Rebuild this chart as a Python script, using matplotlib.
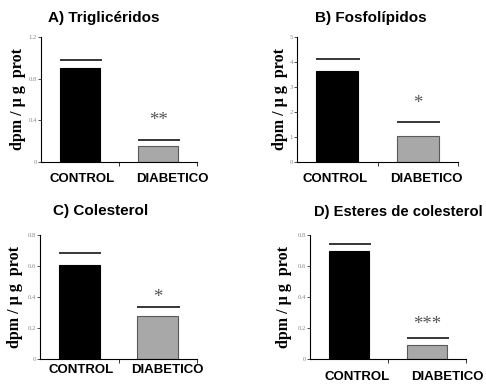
import numpy as np
import matplotlib
matplotlib.use("Agg")
import matplotlib.pyplot as plt
import matplotlib.transforms as mtransforms

# Datos (dpm / ug prot)
grupos = ["CONTROL", "DIABETICO"]
titulos = ["A) Triglicéridos", "B) Fosfolípidos", "C) Colesterol", "D) Esteres de colesterol"]
medias_tg = [0.90, 0.15]
sem_tg = [0.08, 0.06]
medias_fl = [3.62, 1.04]
sem_fl = [0.50, 0.56]
medias_col = [0.605, 0.28]
sem_col = [0.08, 0.055]
medias_est = [0.70, 0.088]
sem_est = [0.042, 0.047]
signif = ["**", "*", "*", "***"]
yticks_a = [0, 0.4, 0.8, 1.2]
yticks_b = [0, 1, 2, 3, 4, 5]
yticks_cd = [0, 0.2, 0.4, 0.6, 0.8]

W, H = 486, 386
fig = plt.figure(figsize=(W / 100, H / 100), dpi=100)


def caja(l, t, r, b):
    return [l / W, 1 - b / H, (r - l) / W, (b - t) / H]


paneles = [
    # caja, medias, sem, yticks, etiquetas, pad xlabel, desplaz. etiquetas x (px), dist ylabel (px), desplaz. estrellas (pt)
    (caja(41, 37, 197, 162), medias_tg, sem_tg, yticks_a, ["0", "0.4", "0.8", "1.2"], 8, (2, 14), 23, 14),
    (caja(297, 37, 458, 162), medias_fl, sem_fl, yticks_b, ["0", "1", "2", "3", "4", "5"], 8, (-2, 9), 17, 13),
    (caja(40, 235, 197, 359), medias_col, sem_col, yticks_cd, ["0", "0.2", "0.4", "0.6", "0.8"], 3.5, (2, 10), 25, 7),
    (caja(310, 235, 466, 359), medias_est, sem_est, yticks_cd, ["0", "0.2", "0.4", "0.6", "0.8"], 8.5, (8, 20), 26, 10),
]

x = np.arange(len(grupos))
ancho = 0.52

for i, (rect, medias, sem, yt, ytl, pad, desp, dist, est_off) in enumerate(paneles):
    ax = fig.add_axes(rect)
    ax.bar(x, medias, width=ancho, color=["black", "#a8a8a8"],
           edgecolor=["black", "#5a5a5a"], linewidth=0.8)
    tope = np.array(medias) + np.array(sem)
    ax.hlines(tope, x - ancho / 2, x + ancho / 2 + 0.02, color="black", linewidth=1.1)
    ax.annotate(signif[i], (x[1], tope[1]), xytext=(0, est_off), textcoords="offset points",
                ha="center", va="center", fontsize=13.5, color="#555555",
                family="Liberation Serif")

    ax.set_xlim(-0.5, 1.5)
    ax.set_ylim(yt[0], yt[-1])
    ax.set_yticks(yt)
    ax.set_yticklabels(ytl, family="Liberation Serif", fontsize=4.8, color="#888888")
    ax.tick_params(axis="y", length=2, width=0.6, pad=1, color="#333333")

    ax.set_xticks(x)
    ax.set_xticklabels(grupos, family="Liberation Sans", fontweight="bold", fontsize=9.5)
    ax.tick_params(axis="x", length=0, pad=pad)
    ax.set_xticks([0.5, 1.5], minor=True)
    ax.tick_params(axis="x", which="minor", length=3, width=0.7, color="#333333")
    for lab, dx in zip(ax.get_xticklabels(), desp):
        lab.set_transform(lab.get_transform() +
                          mtransforms.ScaledTranslation(dx / 100, 0, fig.dpi_scale_trans))

    for s in ["top", "right"]:
        ax.spines[s].set_visible(False)
    ax.spines["left"].set_linewidth(0.8)
    ax.spines["bottom"].set_linewidth(0.8)

    ax.set_ylabel("dpm / µ g  prot", family="Liberation Serif", fontweight="bold",
                  fontsize=11.5, va="center")
    ax.yaxis.set_label_coords(-dist / (rect[2] * W), 0.5)

# Titulos
pos_titulos = [(48, 18, 11), (315, 18, 11), (53, 211.5, 11), (314, 212, 10.6)]
for t, (px, py, fs) in zip(titulos, pos_titulos):
    fig.text(px / W, 1 - py / H, t, family="Liberation Sans", fontweight="bold",
             fontsize=fs, ha="left", va="center")

fig.savefig("out.png", dpi=100)
